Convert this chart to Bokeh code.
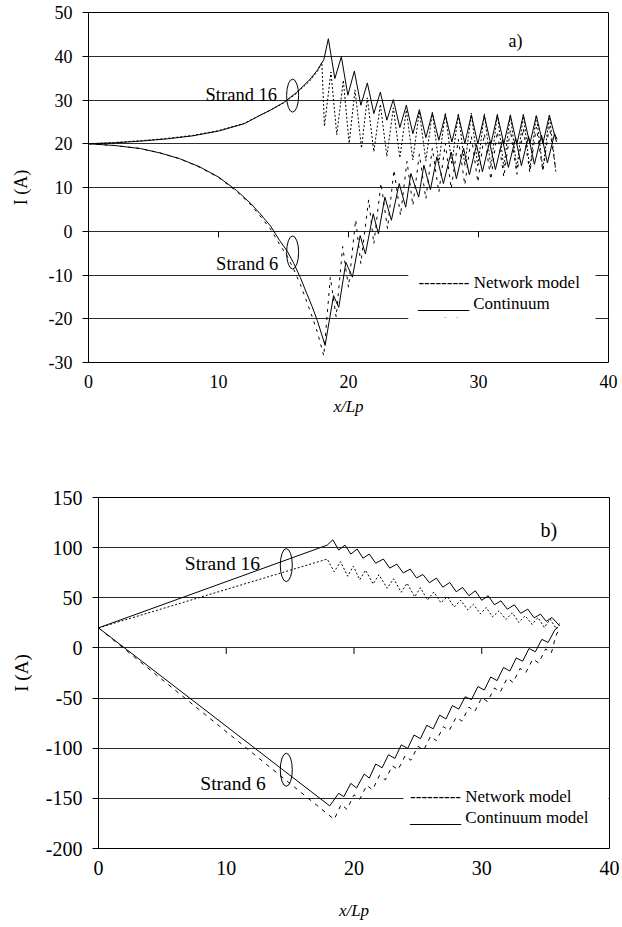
from bokeh.plotting import figure
from bokeh.models import Range1d, FixedTicker, Label, BoxAnnotation, PrintfTickFormatter
from bokeh.embed import file_html
from bokeh.resources import INLINE

FONT = "Liberation Serif"

# ---------------- data ----------------
x_ticks = [0, 10, 20, 30, 40]
inner_x_ticks = [10, 20, 30]
a_y_ticks = [-30, -20, -10, 0, 10, 20, 30, 40, 50]
b_y_ticks = [-200, -150, -100, -50, 0, 50, 100, 150]

# panel a, strand 16, continuum model
a16c_x = [0, 2, 4, 6, 8, 10, 12, 13, 14, 15, 16, 17, 17.6, 18.1,
          18.45, 18.95, 19.45, 19.95, 20.45, 20.95, 21.45, 21.95, 22.45, 22.95,
          23.45, 23.95, 24.45, 24.95, 25.45, 25.95, 26.45, 26.95, 27.45, 27.95,
          28.45, 28.95, 29.45, 29.95, 30.45, 30.95, 31.45, 31.95, 32.45, 32.95,
          33.45, 33.95, 34.45, 34.95, 35.45, 36.0]
a16c_y = [20, 20.2, 20.6, 21.1, 21.8, 22.9, 24.6, 26.2, 27.7, 29.4, 31.7, 34.6, 36.8, 39.2,
          44.0, 34.9, 39.9, 31.1, 36.6, 28.8, 33.9, 26.9, 31.8, 25.4,
          30.1, 23.7, 28.8, 22.3, 27.8, 21.4, 27.0, 20.8, 26.6, 20.4,
          26.5, 20.1, 26.6, 20.0, 26.4, 19.9, 26.6, 20.0, 26.5, 19.9,
          26.6, 20.0, 26.4, 20.0, 26.5, 20.4]

# panel a, strand 16, network model
a16n_x = [0, 2, 4, 6, 8, 10, 12, 13, 14, 15, 16, 17, 17.6, 17.95,
          18.15, 18.65, 19.1, 19.6, 20.05, 20.5, 21.0, 21.45, 21.95, 22.45,
          22.95, 23.45, 23.95, 24.45, 24.95, 25.45, 25.95, 26.45, 26.95, 27.45,
          27.95, 28.45, 28.95, 29.45, 29.95, 30.45, 30.95, 31.45, 31.95, 32.45,
          32.95, 33.45, 33.95, 34.45, 34.95, 35.45, 35.95]
a16n_y = [20, 20.3, 20.7, 21.2, 21.9, 23.0, 24.7, 26.2, 27.7, 29.3, 31.5, 34.3, 36.5, 38.6,
          24.0, 36.4, 22.0, 34.5, 20.1, 32.3, 19.0, 30.5, 18.2, 29.0,
          17.1, 28.2, 16.8, 27.7, 16.3, 27.4, 16.1, 27.2, 15.6, 27.1,
          15.3, 27.0, 15.0, 27.0, 14.8, 26.9, 14.6, 26.8, 14.5, 26.7,
          14.3, 26.7, 14.2, 26.6, 14.0, 26.5, 13.5]

# panel a, strand 6, continuum model
a6c_x = [0, 2, 4, 5.5, 7, 8.5, 10, 11.4, 12.5, 13.2, 14, 14.7, 15.3, 15.8, 16.3, 16.8, 17.2, 17.6, 18.2,
         18.85, 19.25, 19.8, 20.3, 20.9, 21.3, 21.9, 22.3, 22.8, 23.3,
         23.9, 24.4, 24.8, 25.4, 25.8, 26.3, 26.8, 27.3, 27.9, 28.3,
         28.85, 29.3, 29.85, 30.3, 30.85, 31.3, 31.85, 32.3, 32.85, 33.3,
         33.85, 34.3, 34.85, 35.3, 35.85, 36.05]
a6c_y = [20, 19.6, 18.9, 17.9, 16.6, 14.8, 12.4, 9.3, 6.3, 4.0, 1.2, -2.1, -4.6, -7.4, -10.6, -14.3, -17.2, -20.4, -26.1,
         -14.7, -17.4, -7.1, -10.5, -1.0, -5.2, 4.0, -0.6, 7.8, 2.5,
         10.9, 5.5, 13.2, 7.8, 15.1, 9.5, 17.0, 10.9, 18.1, 12.0,
         19.0, 12.9, 19.8, 13.6, 20.4, 14.1, 20.9, 14.6, 21.3, 15.0,
         21.7, 15.3, 22.0, 15.6, 22.3, 21.0]

# panel a, strand 6, network model
a6n_x = [0, 2, 4, 5.5, 7, 8.5, 10, 11.4, 12.5, 13.2, 14, 14.7, 15.3, 15.8, 16.3, 16.8, 17.2, 17.6, 18.1,
         18.6, 19.05, 19.55, 20.0, 20.55, 20.95, 21.55, 21.95, 22.5, 23.0,
         23.5, 24.0, 24.5, 24.95, 25.45, 25.95, 26.45, 26.95, 27.45, 27.9,
         28.45, 28.95, 29.45, 29.95, 30.45, 30.95, 31.45, 31.95, 32.45, 32.95,
         33.45, 33.95, 34.45, 34.95, 35.45, 35.95]
a6n_y = [20, 19.6, 18.9, 17.9, 16.6, 14.7, 12.3, 9.1, 6.0, 3.5, 0.5, -3.0, -5.8, -8.8, -12.2, -16.2, -19.5, -23.0, -28.5,
         -10.5, -19.6, -3.5, -12.8, 2.6, -7.4, 7.2, -2.9, 11.0, 0.6,
         14.0, 3.6, 16.0, 5.9, 17.6, 7.4, 19.0, 8.9, 20.1, 9.7,
         21.0, 10.6, 21.7, 11.2, 22.3, 11.8, 22.8, 12.4, 23.2, 13.0,
         23.5, 13.4, 23.8, 13.8, 24.0, 14.0]

# panel b, strand 16, continuum model
b16c_x = [0, 17.9, 18.35, 18.8, 19.3, 19.75, 20.25, 20.7, 21.2, 21.7, 22.3, 22.8, 23.35, 23.85,
          24.4, 24.9, 25.4, 25.9, 26.45, 26.95, 27.5, 28.0, 28.5, 29.0, 29.5, 30.0,
          30.5, 31.0, 31.5, 32.0, 32.55, 33.05, 33.6, 34.1, 34.6, 35.05, 35.5, 36.1]
b16c_y = [20, 102.5, 107.8, 97.6, 102.5, 93.6, 98.6, 89.5, 93.6, 84.5, 88.6, 79.6, 83.6, 74.8,
          78.6, 69.8, 73.2, 65.0, 69.6, 60.6, 65.3, 56.0, 60.3, 52.0, 57.0, 47.5,
          52.0, 43.0, 47.0, 38.6, 43.0, 34.5, 38.7, 30.0, 33.7, 26.5, 30.3, 22.0]

# panel b, strand 16, network model
b16n_x = [0, 17.9, 18.45, 18.95, 19.5, 19.95, 20.45, 20.9, 21.5, 21.95, 22.6, 23.1, 23.7, 24.15,
          24.75, 25.2, 25.75, 26.25, 26.8, 27.3, 27.85, 28.35, 28.9, 29.35, 29.9, 30.35,
          30.85, 31.35, 31.9, 32.4, 32.9, 33.4, 33.95, 34.4, 34.9, 35.35, 35.85, 36.15]
b16n_y = [20, 88.6, 76.0, 86.0, 71.5, 81.5, 68.0, 77.5, 63.8, 73.0, 59.5, 69.0, 55.5, 64.5,
          51.0, 60.0, 47.8, 55.8, 45.0, 51.0, 40.8, 47.6, 38.0, 43.5, 34.0, 40.3,
          31.0, 37.0, 28.5, 35.0, 25.4, 32.0, 23.5, 30.3, 20.4, 28.6, 19.0, 26.0]

# panel b, strand 6, continuum model
b6c_x = [0, 18.1, 18.8, 19.2, 19.75, 20.2, 20.8, 21.2, 21.7, 22.2, 22.7, 23.2, 23.7, 24.2,
         24.7, 25.2, 25.7, 26.2, 26.7, 27.2, 27.7, 28.2, 28.7, 29.2, 29.7, 30.2,
         30.7, 31.2, 31.7, 32.2, 32.7, 33.2, 33.7, 34.2, 34.7, 35.2, 35.7, 35.95]
b6c_y = [20, -157.5, -145.0, -148.4, -135.1, -139.7, -125.8, -129.8, -115.8, -119.5, -106.5, -110.2, -96.6, -100.3,
         -86.8, -90.5, -77.2, -80.6, -67.0, -70.8, -57.5, -61.0, -48.7, -51.5, -38.5, -42.0,
         -29.0, -32.6, -19.5, -23.0, -10.0, -13.2, -0.6, -3.8, 8.5, 5.5, 17.5, 21.0]

# panel b, strand 6, network model
b6n_x = [0, 18.45, 19.0, 19.45, 20.0, 20.45, 21.0, 21.45, 22.0, 22.45, 23.0, 23.45, 24.0, 24.45,
         25.0, 25.45, 26.0, 26.45, 27.0, 27.45, 28.0, 28.45, 29.0, 29.45, 30.0, 30.45,
         31.0, 31.45, 32.0, 32.45, 33.0, 33.45, 34.0, 34.45, 35.0, 35.45, 35.8, 36.1]
b6n_y = [20, -171.0, -156.0, -161.0, -146.5, -151.0, -137.0, -141.5, -127.0, -131.5, -117.5, -121.5, -107.5, -112.0,
         -98.0, -102.0, -88.0, -92.5, -78.5, -82.5, -69.0, -73.0, -59.0, -63.5, -49.5, -53.5,
         -40.0, -44.0, -30.0, -34.5, -20.5, -24.5, -11.0, -15.0, -1.0, -5.0, 12.0, 20.0]

TICK_PX = 6


def base_fig(width, height, y_rng, y_ticks, left, right, top, bottom, tick_fs,
             x_std, y_lab_std, x_lab_std, y_lab_fs):
    p = figure(width=width, height=height, x_range=Range1d(0, 40), y_range=Range1d(*y_rng),
               output_backend="svg", toolbar_location=None,
               min_border_left=left, min_border_right=right,
               min_border_top=top, min_border_bottom=bottom)
    p.outline_line_color = "black"
    p.outline_line_width = 1
    p.outline_line_alpha = 1
    p.background_fill_color = "white"
    p.border_fill_color = "white"
    p.xgrid.visible = False
    p.ygrid.ticker = FixedTicker(ticks=y_ticks)
    p.ygrid.grid_line_color = "#2a2a2a"
    p.ygrid.grid_line_width = 1

    xa = p.xaxis[0]
    xa.ticker = FixedTicker(ticks=x_ticks)
    xa.axis_line_color = None
    xa.major_tick_line_color = None
    xa.major_tick_out = 0
    xa.major_tick_in = 0
    xa.minor_tick_line_color = None
    xa.major_label_standoff = x_std
    xa.major_label_text_font = FONT
    xa.major_label_text_font_size = tick_fs
    xa.major_label_text_color = "black"
    xa.axis_label = "x/Lp"
    xa.axis_label_text_font = FONT
    xa.axis_label_text_font_style = "italic"
    xa.axis_label_text_font_size = "17px"
    xa.axis_label_text_color = "black"
    xa.axis_label_standoff = x_lab_std

    ya = p.yaxis[0]
    ya.ticker = FixedTicker(ticks=y_ticks)
    ya.formatter = PrintfTickFormatter(format="%d")
    ya.axis_line_color = "black"
    ya.major_tick_in = 0
    ya.major_tick_out = 6
    ya.major_tick_line_color = "black"
    ya.minor_tick_line_color = None
    ya.major_label_standoff = 10
    ya.major_label_text_font = FONT
    ya.major_label_text_font_size = tick_fs
    ya.major_label_text_color = "black"
    ya.axis_label = "I (A)"
    ya.axis_label_text_font = FONT
    ya.axis_label_text_font_style = "normal"
    ya.axis_label_text_font_size = y_lab_fs
    ya.axis_label_text_color = "black"
    ya.axis_label_standoff = y_lab_std

    # short tick marks of the x axis, drawn on the zero line
    frame_h = height - top - bottom
    tick_len = TICK_PX * (y_rng[1] - y_rng[0]) / frame_h
    p.segment(x0=inner_x_ticks, y0=[0] * len(inner_x_ticks),
              x1=inner_x_ticks, y1=[-tick_len] * len(inner_x_ticks),
              line_color="black", line_width=1)
    return p


def txt(p, x, y, s, size, align="left", baseline="alphabetic", style="normal"):
    p.add_layout(Label(x=x, y=y, text=s, text_font=FONT, text_font_size=size,
                       text_align=align, text_baseline=baseline, text_font_style=style,
                       text_color="black"))


def white_box(p, l, r, t, b):
    p.add_layout(BoxAnnotation(left=l, right=r, top=t, bottom=b, fill_color="white",
                               fill_alpha=1.0, line_color=None, line_alpha=0))


# ---------------- panel a ----------------
pa = base_fig(622, 430, (-30, 50), a_y_ticks, 88, 14, 12, 68, "18px",
              x_std=12, y_lab_std=15, x_lab_std=6, y_lab_fs="18px")
pa.line(a16c_x, a16c_y, line_color="black", line_width=1)
pa.line(a6c_x, a6c_y, line_color="black", line_width=1)
pa.line(a16n_x, a16n_y, line_color="black", line_width=1, line_dash="2 2")
pa.line(a6n_x, a6n_y, line_color="black", line_width=1, line_dash="3 5")
pa.ellipse(x=[15.7, 15.7], y=[31.0, -4.85], width=12, height=33,
           width_units="screen", height_units="screen",
           fill_color=None, line_color="black", line_width=1)
txt(pa, 14.5, 31.1, "Strand 16", "18.5px", align="right")
txt(pa, 14.6, -7.4, "Strand 6", "18.5px", align="right")
txt(pa, 32.3, 43.4, "a)", "18px")
white_box(pa, 24.6, 39.0, -7.1, -19.66)
txt(pa, 25.38, -11.8, "--------- Network model", "17px")
txt(pa, 25.34, -16.6, "______ Continuum", "17px")
txt(pa, 25.3, -21.0, "model", "17px")
white_box(pa, 24.6, 39.0, -19.66, -23.5)

# ---------------- panel b ----------------
pb = base_fig(622, 497, (-200, 150), b_y_ticks, 98, 13, 67, 79, "20px",
              x_std=12, y_lab_std=11, x_lab_std=23, y_lab_fs="19px")
pb.line(b16c_x, b16c_y, line_color="black", line_width=1)
pb.line(b6c_x, b6c_y, line_color="black", line_width=1)
pb.line(b16n_x, b16n_y, line_color="black", line_width=1, line_dash="2 2")
pb.line(b6n_x, b6n_y, line_color="black", line_width=1, line_dash="4 5")
pb.ellipse(x=[14.7, 14.7], y=[82.6, -121.5], width=12, height=33,
           width_units="screen", height_units="screen",
           fill_color=None, line_color="black", line_width=1)
txt(pb, 12.65, 84.6, "Strand 16", "19.5px", align="right")
txt(pb, 13.1, -135.1, "Strand 6", "19.5px", align="right")
txt(pb, 34.6, 117.8, "b)", "20px")
white_box(pb, 23.87, 39.92, -127.5, -187.0)
txt(pb, 24.39, -148.4, "--------- Network model", "17px")
txt(pb, 24.39, -169.0, "______ Continuum model", "17px")

open("out.html", "w").write(file_html([pa, pb], INLINE))
